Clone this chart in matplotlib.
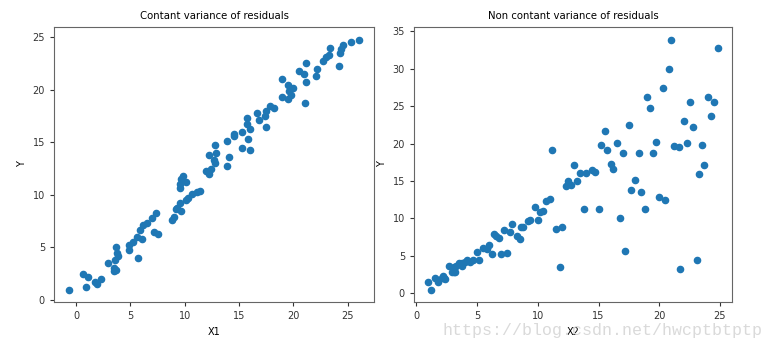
import numpy as np
import matplotlib
matplotlib.use('Agg')
import matplotlib.pyplot as plt

# values
x1 = [26.1, 25.3, 24.6, 24.4, 24.3, 23.4, 23.3, 23.0, 22.7, 24.2, 22.2, 22.1, 21.2, 21.0,
      21.2, 20.5, 21.1, 19.0, 19.5, 20.0, 19.6, 19.8, 19.0, 19.5, 18.2, 17.9, 17.5, 17.4,
      16.7, 16.8, 17.5, 15.7, 15.7, 16.0, 15.3, 15.8, 16.0, 15.3, 14.5, 14.5, 13.9, 14.1,
      13.9, 12.8, 12.9, 12.2, 12.7, 12.8, 12.4, 12.0, 12.2,
      9.8, 9.7, 9.6, 9.6, 10.1, 11.4, 11.1, 10.7, 10.3, 10.1, 9.6, 9.3, 9.7, 9.2, 9.0, 8.8,
      7.4, 7.0, 7.2, 7.5, 6.5, 6.2, 5.9, 6.1, 5.6, 5.7, 5.2, 4.9, 4.9, 3.7, 3.8, 3.9, 3.6,
      2.9, 3.5, 3.5, 3.7, 2.3, 1.9, 1.7, 1.1, 0.6, 0.9, -0.7]
y1 = [24.8, 24.6, 24.3, 23.9, 23.5, 24.0, 23.3, 23.1, 22.8, 22.3, 22.0, 21.3, 22.6, 21.5,
      20.8, 21.8, 18.8, 21.0, 20.5, 20.2, 19.9, 19.5, 19.3, 19.1, 18.3, 18.5, 18.0, 17.5,
      17.8, 17.1, 16.5, 17.3, 16.8, 16.3, 16.0, 15.3, 14.3, 14.5, 15.8, 15.6, 15.1, 13.6,
      12.8, 14.8, 14.0, 13.8, 13.3, 13.0, 12.5, 12.3, 12.0,
      11.8, 11.5, 11.0, 10.7, 11.2, 10.4, 10.3, 10.1, 9.7, 9.5, 9.2, 8.8, 8.5, 8.7, 7.9, 7.6,
      8.3, 7.8, 6.5, 6.3, 7.3, 7.1, 6.7, 5.8, 6.0, 4.0, 5.5, 5.2, 4.8, 5.0, 4.5, 4.2, 3.8,
      3.5, 3.0, 2.8, 2.9, 2.0, 1.5, 1.7, 2.2, 2.5, 1.2, 1.0]

x2 = [21.0, 24.8, 20.8, 20.3, 19.0, 19.2, 22.5, 24.0, 24.5, 24.3, 22.0, 22.8, 17.5, 15.5,
      22.3, 19.7, 16.5, 15.2, 23.5, 21.2, 21.6, 11.2, 15.7, 17.0, 18.3, 19.5, 16.0, 13.0,
      16.2, 23.7, 13.5, 14.0, 14.5, 14.7, 23.3, 18.0, 17.7, 18.5, 20.0, 20.5,
      12.5, 12.3, 12.7, 13.2, 13.8, 15.0, 18.8, 16.8, 11.0, 10.7, 10.4, 10.2, 9.8,
      10.0, 9.4, 9.2, 7.9, 8.8, 8.6, 12.0, 11.5, 21.7, 23.1, 17.2, 11.8,
      8.3, 8.5, 7.7, 7.2, 6.4, 6.6, 6.8, 7.5, 7.0, 6.2, 6.0, 5.8, 5.5, 5.0, 5.2, 4.7, 4.4,
      4.2, 4.0, 3.8, 3.5, 3.8, 3.1, 3.3, 2.7, 3.1, 3.2, 2.9, 2.4, 2.3, 2.2, 2.1, 1.8, 1.8,
      1.5, 1.0, 1.2]
y2 = [33.9, 32.8, 29.9, 27.4, 26.2, 24.8, 25.5, 26.2, 25.6, 23.7, 23.0, 22.2, 22.5, 21.7,
      20.1, 20.2, 20.1, 19.8, 19.8, 19.7, 19.5, 19.1, 19.1, 18.7, 18.8, 18.7, 17.3, 17.2,
      16.6, 17.1, 16.1, 16.0, 16.4, 16.2, 15.9, 15.1, 13.8, 13.5, 12.9, 12.5,
      15.0, 14.3, 14.4, 15.0, 11.3, 11.3, 11.2, 10.1, 12.6, 12.3, 11.0, 10.9, 11.5,
      9.8, 9.8, 9.6, 9.3, 8.9, 8.9, 8.9, 8.6, 3.2, 4.4, 5.6, 3.5,
      7.7, 7.3, 8.2, 8.4, 7.9, 7.7, 7.4, 5.4, 5.2, 5.2, 6.4, 5.9, 6.1, 5.5, 4.4, 4.4, 4.2,
      4.4, 4.2, 4.1, 4.0, 3.6, 3.5, 3.6, 3.6, 2.8, 2.9, 2.8, 1.9, 2.1, 2.3, 2.1, 1.5, 1.8,
      2.1, 1.5, 0.5]

plt.rcParams['font.size'] = 7

fig = plt.figure(figsize=(7.75, 3.5), dpi=100)
ax1 = fig.add_axes([54/775, 48/350, 320/775, 275/350])
ax2 = fig.add_axes([414/775, 48/350, 318/775, 275/350])

ax1.scatter(x1, y1, s=20, color='#1f77b4')
ax1.set_title('Contant variance of residuals', fontsize=7.3)
ax1.set_xlabel('X1')
ax1.set_ylabel('Y')
ax1.set_xticks([0, 5, 10, 15, 20, 25])
ax1.set_yticks([0, 5, 10, 15, 20, 25])

ax2.scatter(x2, y2, s=20, color='#1f77b4')
ax2.set_title('Non contant variance of residuals', fontsize=7.3)
ax2.set_xlabel('X2')
ax2.set_ylabel('Y')
ax2.set_xticks([0, 5, 10, 15, 20, 25])
ax2.set_yticks([0, 5, 10, 15, 20, 25, 30, 35])

for ax in (ax1, ax2):
    for sp in ax.spines.values():
        sp.set_color('#666666')
    ax.tick_params(colors='#333333', length=3)

# watermark of the source page
fig.text(763/775, 1 - 330/350, 'https://blog.csdn.net/hwcptbtptp', ha='right', va='center',
         fontsize=12, color='#dadada', family='Liberation Mono')

fig.savefig('out.png', dpi=100)
